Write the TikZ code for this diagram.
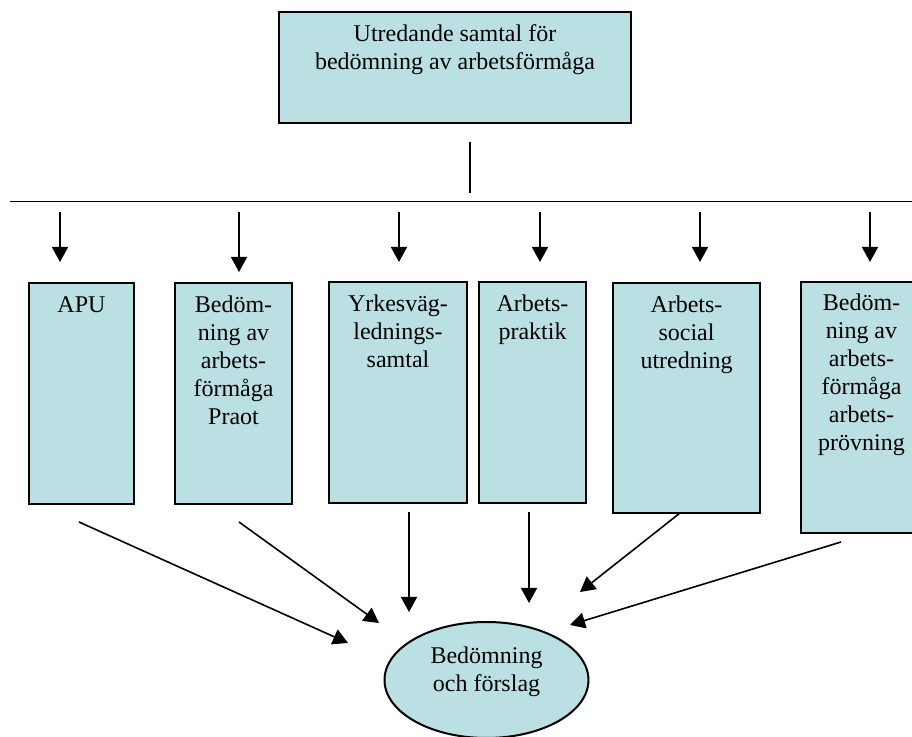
\documentclass[tikz,border=0pt]{standalone}
\usepackage{fontspec}
\setmainfont{Liberation Serif}
\usetikzlibrary{arrows.meta,calc,shapes.geometric}
\definecolor{boxfill}{RGB}{187,224,227}
\begin{document}
\begin{tikzpicture}[x=0.5pt,y=-0.5pt,
  boxst/.style={draw=black,line width=1pt,fill=boxfill,inner sep=0pt},
  txt/.style={anchor=north,inner sep=0pt,align=center,font=\fontsize{12}{14}\selectfont},
  arr/.style={line width=0.8pt,-{Triangle[length=7.5pt,width=8pt]}},
  ln/.style={line width=0.8pt}]
\useasboundingbox (0,0) rectangle (912,737);
\clip (0,0) rectangle (912,737);

% boxes
\node[boxst,minimum width=176pt,minimum height=55.5pt] (top) at (455,67.5) {};
\node[boxst,minimum width=52.5pt,minimum height=110.5pt] (apu) at (81.5,393.5) {};
\node[boxst,minimum width=58.5pt,minimum height=110.5pt] (praot) at (233.5,393.5) {};
\node[boxst,minimum width=69pt,minimum height=110.5pt] (yrke) at (398,392.5) {};
\node[boxst,minimum width=53.5pt,minimum height=110.5pt] (prak) at (532.5,392.5) {};
\node[boxst,minimum width=73.5pt,minimum height=115pt] (soc) at (686.5,398) {};
\node[boxst,minimum width=60.5pt,minimum height=125.5pt] (prov) at (861.5,407.5) {};
\node[boxst,ellipse,minimum width=102pt,minimum height=58pt] (res) at (486.5,680) {};

% texts
\node[txt] (top-t) at ($(top.north)+(0,11)$) {\strut Utredande samtal för\\bedömning av arbetsförmåga};
\node[txt] (apu-t) at ($(apu.north)+(0,10.5)$) {\strut APU};
\node[txt] (praot-t) at ($(praot.north)+(0,10.5)$) {\strut Bedöm-\\ning av\\arbets-\\förmåga\\Praot};
\node[txt] (yrke-t) at ($(yrke.north)+(0,10.5)$) {\strut Yrkesväg-\\lednings-\\samtal};
\node[txt] (prak-t) at ($(prak.north)+(0,10.5)$) {\strut Arbets-\\praktik};
\node[txt] (soc-t) at ($(soc.north)+(0,10.5)$) {\strut Arbets-\\social\\utredning};
\node[txt] (prov-t) at ($(prov.north)+(0,10)$) {\strut Bedöm-\\ning av\\arbets-\\förmåga\\arbets-\\prövning};
\node[txt] (res-t) at (486.5,643.5) {\strut Bedömning\\och förslag};

% trunk and bar
\coordinate (vt) at (470,142);
\coordinate (vb) at (470,193);
\coordinate (hl) at (10,201.5);
\coordinate (hr) at (912,201.5);
\draw[ln] (vt) -- (vb);
\draw[ln] (hl) -- (hr);

% down arrows
\foreach \n/\x/\e in {1/60/262,2/239/272,3/399/262,4/540/262,5/700/262,6/870/262}{
  \coordinate (d\n s) at (\x,212);
  \coordinate (d\n e) at (\x,\e);
  \draw[arr] (d\n s) -- (d\n e);
}

% arrows to result
\coordinate (u1s) at (79,522);  \coordinate (u1e) at (348,643);
\coordinate (u2s) at (239,522); \coordinate (u2e) at (379,623);
\coordinate (u3s) at (409,512); \coordinate (u3e) at (409,612);
\coordinate (u4s) at (529,512); \coordinate (u4e) at (529,603);
\coordinate (u5s) at (680,513); \coordinate (u5e) at (580,592);
\coordinate (u6s) at (841,542); \coordinate (u6e) at (570,625);
\foreach \n in {1,...,6}{\draw[arr] (u\n s) -- (u\n e);}
\end{tikzpicture}
\end{document}
